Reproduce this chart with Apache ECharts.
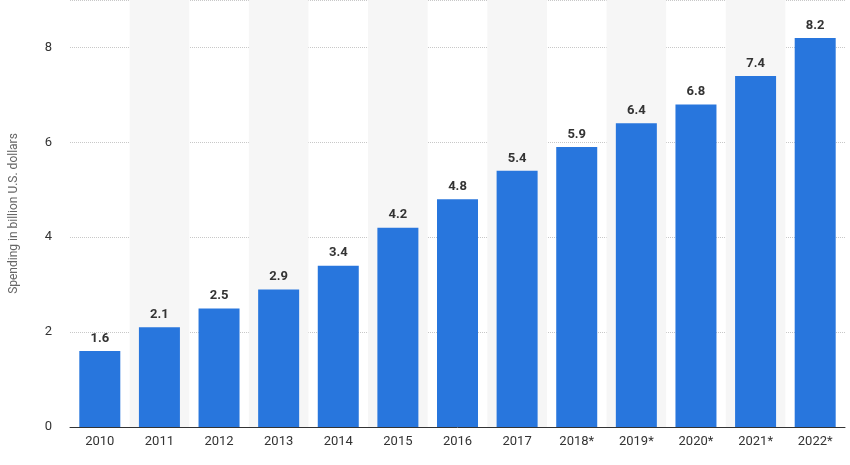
<!DOCTYPE html>
<html><head><meta charset="utf-8">
<script src="https://cdn.jsdelivr.net/npm/echarts@6/dist/echarts.min.js"></script>
<style>html,body{margin:0;padding:0;background:#fff}#c{width:850px;height:465px}</style>
</head><body><div id="c"></div>
<script>
const categories = ['2010','2011','2012','2013','2014','2015','2016','2017','2018*','2019*','2020*','2021*','2022*'];
const values = [1.6,2.1,2.5,2.9,3.4,4.2,4.8,5.4,5.9,6.4,6.8,7.4,8.2];
const yTicks = [0,2,4,6,8];
const chart = echarts.init(document.getElementById('c'));
chart.setOption({
  animation:false,
  grid:{left:70,right:5,top:0,bottom:38},
  xAxis:{type:'category',data:categories,
    axisLine:{lineStyle:{color:'#333'}},axisTick:{show:false},
    axisLabel:{color:'#333',fontSize:13,fontFamily:'Roboto'},
    splitArea:{show:true,areaStyle:{color:['rgba(0,0,0,0)','#f6f6f6']}}},
  yAxis:{type:'value',min:0,max:9,interval:2,
    name:'Spending in billion U.S. dollars',nameLocation:'middle',nameGap:50,
    nameTextStyle:{color:'#666',fontSize:12,fontFamily:'Roboto'},
    axisLabel:{color:'#333',fontSize:13,fontFamily:'Roboto',margin:18,
      formatter:v=>yTicks.includes(v)?String(v):''},
    splitLine:{lineStyle:{color:'#c8c8c8',type:'dotted'}}},
  series:[{type:'bar',data:values,barWidth:41,itemStyle:{color:'#2876dd'},
    label:{show:true,position:'top',color:'#333',fontWeight:'bold',fontSize:13,fontFamily:'Roboto',distance:6,
      formatter:p=>p.value.toFixed(1)}}]
});
</script></body></html>
